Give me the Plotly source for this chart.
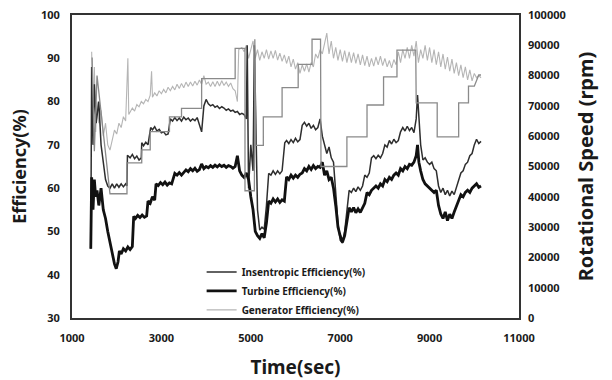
import plotly.graph_objects as go

# ---------------- data ----------------
t_ise = [1420, 1440, 1470, 1500, 1540, 1600, 1650, 1750, 1800, 1850, 1900, 1950, 2000, 2050, 2100, 2150, 2200, 2230,
         2240, 2300, 2350, 2400, 2450, 2500, 2550, 2560, 2600, 2650, 2700, 2760, 2800, 2850, 2900, 2950, 3000, 3050,
         3100, 3150, 3200, 3250, 3300, 3350, 3400, 3450, 3500, 3550, 3600, 3650, 3700, 3750, 3800, 3900, 3950, 4000,
         4050, 4100, 4150, 4200, 4250, 4300, 4350, 4400, 4450, 4500, 4550, 4600, 4650, 4700, 4750, 4800, 4850, 4900,
         4920, 4950, 5000, 5050, 5080, 5110, 5150, 5200, 5250, 5300, 5350, 5400, 5450, 5500, 5550, 5600, 5650, 5700,
         5760, 5800, 5850, 5900, 5950, 6000, 6050, 6100, 6150, 6200, 6250, 6300, 6350, 6400, 6450, 6500, 6550, 6600,
         6650, 6700, 6750, 6800, 6850, 6900, 6950, 7000, 7050, 7100, 7150, 7200, 7250, 7300, 7350, 7400, 7450, 7500,
         7550, 7600, 7650, 7700, 7750, 7800, 7850, 7900, 7950, 8000, 8050, 8100, 8150, 8200, 8250, 8300, 8350, 8400,
         8450, 8500, 8550, 8600, 8650, 8700, 8730, 8760, 8800, 8850, 8900, 8950, 9000, 9050, 9100, 9150, 9200, 9250,
         9300, 9350, 9400, 9450, 9500, 9550, 9600, 9650, 9700, 9750, 9800, 9850, 9900, 9950, 10000, 10050, 10100, 10150]
ise = [46, 88, 70, 84, 75, 80, 70, 62, 60.5, 60, 61, 60, 61, 60.2, 61, 60.3, 61, 60.5,
       67.6, 67, 67.8, 66.8, 67.4, 66.5, 67, 70.5, 69.8, 70.6, 70, 74, 73.5, 74.2, 73.2, 73.6, 72.8, 73,
       72.3, 72.5, 76, 75.5, 76.3, 75.6, 76.2, 75.5, 76.4, 75.8, 76.2, 75.5, 76, 75.6, 76.3, 73, 79, 80.5,
       79.5, 79, 79.3, 78.7, 79, 78.4, 78.8, 78.5, 78, 78.3, 77.8, 78, 77.5, 77.7, 77, 77.3, 77, 76,
       93, 60, 70, 64, 93, 72, 55, 50.3, 51, 50.5, 56, 63.4, 63, 64, 63.2, 64, 63.3, 64,
       70.5, 71, 70.3, 71.2, 70.5, 71.5, 70.7, 71.2, 74.5, 75.2, 74.3, 75, 73.8, 74.5, 73.5, 74, 76, 72,
       70, 68, 69.5, 67, 66, 60, 52, 48, 47.3, 50, 55, 59.5, 59, 60, 59.2, 60.3, 59.5, 60.5,
       63, 62.5, 63.5, 67, 67.5, 66.8, 67.6, 67, 68, 70, 69.5, 71, 70.2, 71.3, 70.5, 71, 73, 74,
       73.2, 74.3, 73.3, 74, 72.8, 76, 81.5, 76, 70, 66.5, 67, 66, 65.5, 66, 64.5, 64, 60.5, 59,
       60, 58.5, 59.5, 58.2, 59.3, 58.5, 60, 62, 63.5, 64, 65.5, 66, 67.5, 68, 70, 71.3, 70.3, 70.8]

t_tur = [1420, 1440, 1470, 1500, 1530, 1560, 1600, 1650, 1700, 1750, 1800, 1850, 1900, 1950, 1990, 2030, 2060, 2100,
         2150, 2200, 2250, 2300, 2350, 2380, 2420, 2470, 2520, 2570, 2620, 2670, 2700, 2750, 2800, 2850, 2880, 2930,
         2980, 3030, 3080, 3130, 3180, 3230, 3300, 3350, 3400, 3450, 3500, 3550, 3600, 3650, 3700, 3750, 3800, 3850,
         3900, 3950, 4000, 4050, 4100, 4150, 4200, 4250, 4300, 4350, 4400, 4450, 4500, 4550, 4600, 4650, 4700, 4750,
         4800, 4850, 4900, 4950, 5000, 5050, 5100, 5150, 5200, 5250, 5300, 5350, 5400, 5450, 5500, 5550, 5600, 5650,
         5700, 5750, 5800, 5850, 5900, 5950, 6000, 6050, 6100, 6150, 6200, 6250, 6300, 6350, 6400, 6450, 6500, 6550,
         6600, 6650, 6700, 6750, 6800, 6850, 6900, 6950, 7000, 7050, 7100, 7150, 7200, 7250, 7300, 7350, 7400, 7450,
         7500, 7550, 7600, 7650, 7700, 7750, 7800, 7850, 7900, 7950, 8000, 8050, 8100, 8150, 8200, 8250, 8300, 8350,
         8400, 8450, 8500, 8550, 8600, 8650, 8700, 8730, 8760, 8800, 8850, 8900, 8950, 9000, 9050, 9100, 9150, 9200,
         9250, 9300, 9350, 9400, 9450, 9500, 9550, 9600, 9650, 9700, 9750, 9800, 9850, 9900, 9950, 10000, 10050, 10100,
         10150]
tur = [46, 62.5, 55, 62, 58, 59.5, 56, 60, 55, 53, 50, 47, 45, 42.5, 41.4, 43, 45.5, 44.8,
       46, 45.5, 46.4, 45.8, 46.5, 53.5, 53, 53.7, 53.2, 53.8, 53.3, 53.6, 57, 56.5, 58, 57.2, 61, 60.6,
       61.3, 60.8, 61.4, 60.7, 61.2, 61, 63.4, 63, 63.6, 63, 63.5, 64.2, 63.8, 64.5, 64, 64.6, 63.9, 64.3,
       65.6, 64.5, 65, 64.7, 65.2, 64.8, 65.3, 64.9, 65.4, 65, 65.3, 64.8, 65.2, 65, 64.6, 65, 67.5, 64,
       63, 62.5, 63.5, 62, 58, 55, 50, 49, 48.4, 49.5, 48.5, 52, 57, 56.5, 57.5, 56.8, 57.5, 56.7,
       57.3, 57, 62.6, 62, 63, 62.3, 63, 62.5, 63.2, 63.5, 64.5, 64, 65, 64.3, 65.2, 64.5, 65, 64.8,
       66, 63, 64, 62, 62.5, 60, 56, 51, 49, 47.5, 49, 52, 55.5, 54.5, 55.5, 54.3, 55.2, 54.4,
       55.5, 56.5, 59, 58.5, 59.5, 60, 60.5, 60, 61, 60.5, 62, 61.5, 62.5, 62, 63, 63.5, 63, 64.5,
       64, 65, 64.5, 65.5, 65.3, 66, 67.5, 70, 66, 64, 62, 61, 60.5, 60, 59.5, 59, 59.5, 56,
       54, 53, 54.5, 52.5, 54, 53, 54.5, 56, 57, 58.5, 58, 59, 59.5, 59, 60, 60.5, 61, 60.2,
       60.5]

t_gen = [1440, 1470, 1500, 1530, 1560, 1600, 1650, 1700, 1750, 1800, 1850, 1900, 1950, 2000, 2050, 2100, 2150, 2200,
         2250, 2270, 2300, 2350, 2400, 2450, 2500, 2550, 2600, 2650, 2700, 2750, 2780, 2800, 2850, 2900, 2950, 3000,
         3050, 3100, 3150, 3200, 3250, 3300, 3350, 3400, 3450, 3500, 3550, 3600, 3650, 3700, 3750, 3800, 3850, 3900,
         3950, 4000, 4050, 4100, 4150, 4200, 4250, 4300, 4350, 4400, 4450, 4500, 4550, 4600, 4650, 4700, 4730, 4800,
         4850, 4900, 4950, 5000, 5050, 5100, 5150, 5200, 5250, 5300, 5350, 5400, 5450, 5500, 5550, 5600, 5650, 5700,
         5750, 5800, 5850, 5900, 5950, 6000, 6050, 6100, 6150, 6200, 6250, 6300, 6350, 6400, 6450, 6500, 6550, 6600,
         6650, 6700, 6750, 6800, 6850, 6900, 6950, 7000, 7050, 7100, 7150, 7200, 7250, 7300, 7350, 7400, 7450, 7500,
         7550, 7600, 7650, 7700, 7750, 7800, 7850, 7900, 7950, 8000, 8050, 8100, 8150, 8200, 8250, 8300, 8350, 8400,
         8450, 8500, 8550, 8600, 8650, 8700, 8750, 8800, 8850, 8900, 8950, 9000, 9050, 9100, 9150, 9200, 9250, 9300,
         9350, 9400, 9450, 9500, 9550, 9600, 9650, 9700, 9750, 9800, 9850, 9900, 9950, 10000, 10050, 10100, 10150]
gen = [91.5, 75, 88, 73, 80, 75, 78, 72, 75, 70, 68.8, 71, 73.4, 72.5, 75, 74, 76.5, 75.5,
       90, 77, 77.5, 78.5, 77.8, 79.3, 78.8, 80, 79.5, 80.5, 80, 81.5, 87, 81, 82, 81.3, 82.5, 81.8,
       82.8, 82, 83.3, 82.5, 83.5, 82.7, 84, 83, 84.2, 83.2, 84.5, 83.5, 84.5, 83.6, 84.7, 83.8, 85, 84,
       86, 84, 84.5, 83.5, 84.6, 83.5, 84.7, 83.6, 84.8, 83.7, 84.5, 83.5, 84.3, 83, 82.5, 80, 92, 92.5,
       91.5, 93, 90, 92, 94, 90, 92, 89.5, 91.5, 90, 92, 89.8, 91.7, 90, 91.8, 89.6, 91.2, 89.3,
       90.8, 88.8, 90.5, 88, 89.8, 87.5, 89, 86.5, 88.5, 87, 88.7, 86.8, 89, 88, 91, 90, 92, 91,
       93.5, 95.8, 91, 94, 90, 92.5, 89.5, 92, 89.3, 91.8, 89, 91.5, 89, 91.3, 88.8, 91, 88.5, 90.8,
       88.3, 90.5, 88, 90, 88.2, 90.3, 88.5, 90.5, 88.3, 90, 88, 89.5, 87.8, 89.7, 88.5, 91.5, 89, 92,
       90, 92.5, 90, 93, 90.5, 94, 89, 92, 90, 93, 89.5, 92.5, 89, 92, 88.5, 91.5, 88, 91,
       87.5, 90.3, 87, 89.8, 86.5, 89, 86, 88.5, 85.5, 88, 85, 87.3, 84.8, 86.5, 85.5, 86, 85.5]

t_rpm = [1450, 1500, 1560, 1850, 2230, 2230, 2560, 2560, 2750, 2750, 3180, 3180, 3450, 3450, 3900, 3900, 4650, 4650,
         4870, 4870, 5080, 5090, 5110, 5280, 5280, 5700, 5700, 6060, 6060, 6370, 6370, 6560, 6570, 7150, 7150, 7600,
         7600, 7970, 7970, 8270, 8270, 8690, 8700, 9170, 9170, 9650, 9650, 9870, 9870, 10000, 10100, 10150]
rpm = [86000, 55000, 80000, 41000, 41000, 51200, 51200, 55500, 55500, 61500, 61500, 66400, 66400, 69200, 69200, 79000, 79000, 89000,
       89000, 42000, 42000, 92000, 57000, 57000, 66400, 66400, 76000, 76000, 83700, 83700, 92000, 92000, 50000, 50000, 59800, 59800,
       70300, 70300, 79600, 79600, 88400, 88400, 71000, 71000, 59800, 59800, 71000, 71000, 76500, 76500, 80200, 80200]

x_ticks = [1000, 3000, 5000, 7000, 9000, 11000]
y_ticks = [30, 40, 50, 60, 70, 80, 90, 100]
y2_ticks = [0, 10000, 20000, 30000, 40000, 50000, 60000, 70000, 80000, 90000, 100000]

# ---------------- figure ----------------
FONT = "Noto Sans"
fig = go.Figure()

fig.add_trace(go.Scatter(x=t_rpm, y=rpm, mode="lines", yaxis="y2", showlegend=False,
                         line=dict(color="#8a8a8a", width=1.3)))
fig.add_trace(go.Scatter(x=t_gen, y=gen, mode="lines", name="Generator Efficiency(%)",
                         line=dict(color="#b5b5b5", width=1.1)))
fig.add_trace(go.Scatter(x=t_ise, y=ise, mode="lines", name="Insentropic Efficiency(%)",
                         line=dict(color="#2e2e2e", width=1.5)))
fig.add_trace(go.Scatter(x=t_tur, y=tur, mode="lines", name="Turbine Efficiency(%)",
                         line=dict(color="#111111", width=2.8)))

fig.update_layout(
    width=612, height=380,
    margin=dict(l=72, r=93, t=15, b=62),
    paper_bgcolor="white", plot_bgcolor="white",
    font=dict(family=FONT, color="#1a1a1a", size=11, weight="bold"),
    showlegend=True,
    legend=dict(x=0.29, y=0.2, xanchor="left", yanchor="top",
                traceorder="normal", bgcolor="rgba(0,0,0,0)",
                font=dict(size=10, family=FONT, weight="bold"),
                itemwidth=30, tracegroupgap=0),
    xaxis=dict(range=[1000, 11000], tickvals=x_ticks, ticktext=[str(v) for v in x_ticks],
               showgrid=False, zeroline=False, automargin=False,
               showline=True, linecolor="#333", linewidth=2, mirror=True,
               ticks="", tickfont=dict(size=11, weight="bold"), ticklabelstandoff=9,
               title=dict(text="Time(sec)", font=dict(size=19, weight="bold"), standoff=17)),
    yaxis=dict(range=[30, 100], tickvals=y_ticks, ticktext=[str(v) for v in y_ticks],
               showgrid=False, zeroline=False, automargin=False,
               showline=True, linecolor="#333", linewidth=2, mirror=True,
               ticks="", tickfont=dict(size=11, weight="bold"), ticklabelstandoff=8,
               title=dict(text="Efficiency(%)", font=dict(size=18, weight="bold"), standoff=10)),
    yaxis2=dict(range=[0, 100000], tickvals=y2_ticks, ticktext=[str(v) for v in y2_ticks],
                overlaying="y", side="right", automargin=False,
                showgrid=False, zeroline=False, showline=False, ticks="",
                tickfont=dict(size=11, weight="bold"), ticklabelstandoff=8,
                title=dict(text="Rotational Speed (rpm)", font=dict(size=20, weight="bold"), standoff=14)),
)

# legend order: Insentropic, Turbine, Generator
fig.data[2].legendrank = 1
fig.data[3].legendrank = 2
fig.data[1].legendrank = 3

fig.write_html("out.html")
